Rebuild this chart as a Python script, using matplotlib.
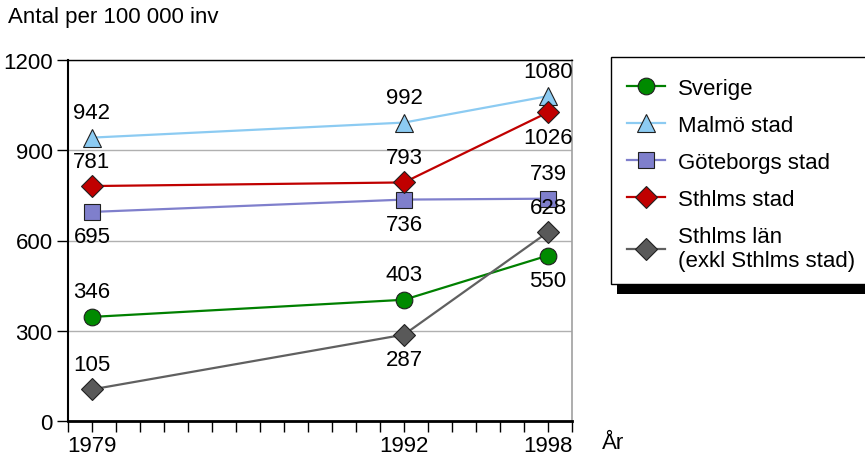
import numpy as np
import matplotlib
matplotlib.use('Agg')
from matplotlib import pyplot as plt
from matplotlib.patches import Rectangle

plt.rcParams['font.family'] = ['Liberation Sans', 'DejaVu Sans']

years = [1979, 1992, 1998]
series_names = ['Sverige', 'Malmö stad', 'Göteborgs stad', 'Sthlms stad',
                'Sthlms län\n(exkl Sthlms stad)']
sverige = [346, 403, 550]
malmo = [942, 992, 1080]
goteborg = [695, 736, 739]
sthlm_stad = [781, 793, 1026]
sthlm_lan = [105, 287, 628]
# label placement per point: +1 above, -1 below
sverige_pos = [1, 1, -1]
malmo_pos = [1, 1, 1]
goteborg_pos = [-1, -1, 1]
sthlm_stad_pos = [1, 1, -1]
sthlm_lan_pos = [1, -1, 1]

styles = [
    (sverige, sverige_pos, '#008000', '#008a00', 'o', 12),
    (malmo, malmo_pos, '#8ccbf2', '#8ccbf2', '^', 13),
    (goteborg, goteborg_pos, '#7f7fcc', '#7f7fcc', 's', 11),
    (sthlm_stad, sthlm_stad_pos, '#c00000', '#c00000', 'D', 11),
    (sthlm_lan, sthlm_lan_pos, '#606060', '#595959', 'D', 11),
]
FS = 16

fig = plt.figure(figsize=(8.65, 4.56), dpi=100)
ax = fig.add_axes([68 / 865, 34 / 456, 504 / 865, 361 / 456])

handles = []
for (vals, pos, lc, fc, mk, ms), name in zip(styles, series_names):
    h, = ax.plot(years, vals, color=lc, lw=1.6, marker=mk, markersize=ms,
                 markerfacecolor=fc, markeredgecolor='#202020',
                 markeredgewidth=0.8, label=name, zorder=3, clip_on=False)
    handles.append(h)
    for x, y, p in zip(years, vals, pos):
        ax.annotate(str(y), (x, y), xytext=(0, 18 * p), textcoords='offset points',
                    ha='center', va='center', fontsize=FS, zorder=4)

ax.set_xlim(1978, 1999)
ax.set_ylim(0, 1200)
ax.set_yticks([0, 300, 600, 900, 1200])
ax.set_xticks(np.arange(1978, 2000))
ax.set_xticklabels([str(y) if y in years else '' for y in range(1978, 2000)])
ax.tick_params(axis='both', labelsize=FS, length=8, width=1, direction='out')
ax.tick_params(axis='x', pad=2)
ax.tick_params(axis='y', pad=3)
ax.yaxis.grid(True, color='#b0b0b0', lw=1)
ax.set_axisbelow(True)

ax.spines['left'].set_linewidth(1.5)
ax.spines['bottom'].set_linewidth(2)
ax.spines['top'].set_linewidth(1)
ax.spines['right'].set_color('#a0a0a0')
ax.spines['right'].set_linewidth(1.2)

fig.text(8 / 865, 1 - 18 / 456, 'Antal per 100 000 inv', fontsize=FS, va='center', ha='left')
fig.text(602 / 865, 1 - 444 / 456, 'År', fontsize=FS, va='center', ha='left')

# legend box with a shadow strip underneath
fig.patches.append(Rectangle((617 / 865, 1 - 295 / 456), 300 / 865, 237 / 456,
                             transform=fig.transFigure, facecolor='black',
                             edgecolor='none', zorder=0))
fig.patches.append(Rectangle((611 / 865, 1 - 285 / 456), 300 / 865, 227 / 456,
                             transform=fig.transFigure, facecolor='white',
                             edgecolor='black', lw=1, zorder=1))

fig.legend(handles=handles, loc='upper left', bbox_to_anchor=(627 / 865, 1 - 79 / 456),
           frameon=False, fontsize=FS, handlelength=1.7, handletextpad=0.6,
           labelspacing=0.72, borderaxespad=0, borderpad=0)

fig.savefig('out.png', dpi=100)
